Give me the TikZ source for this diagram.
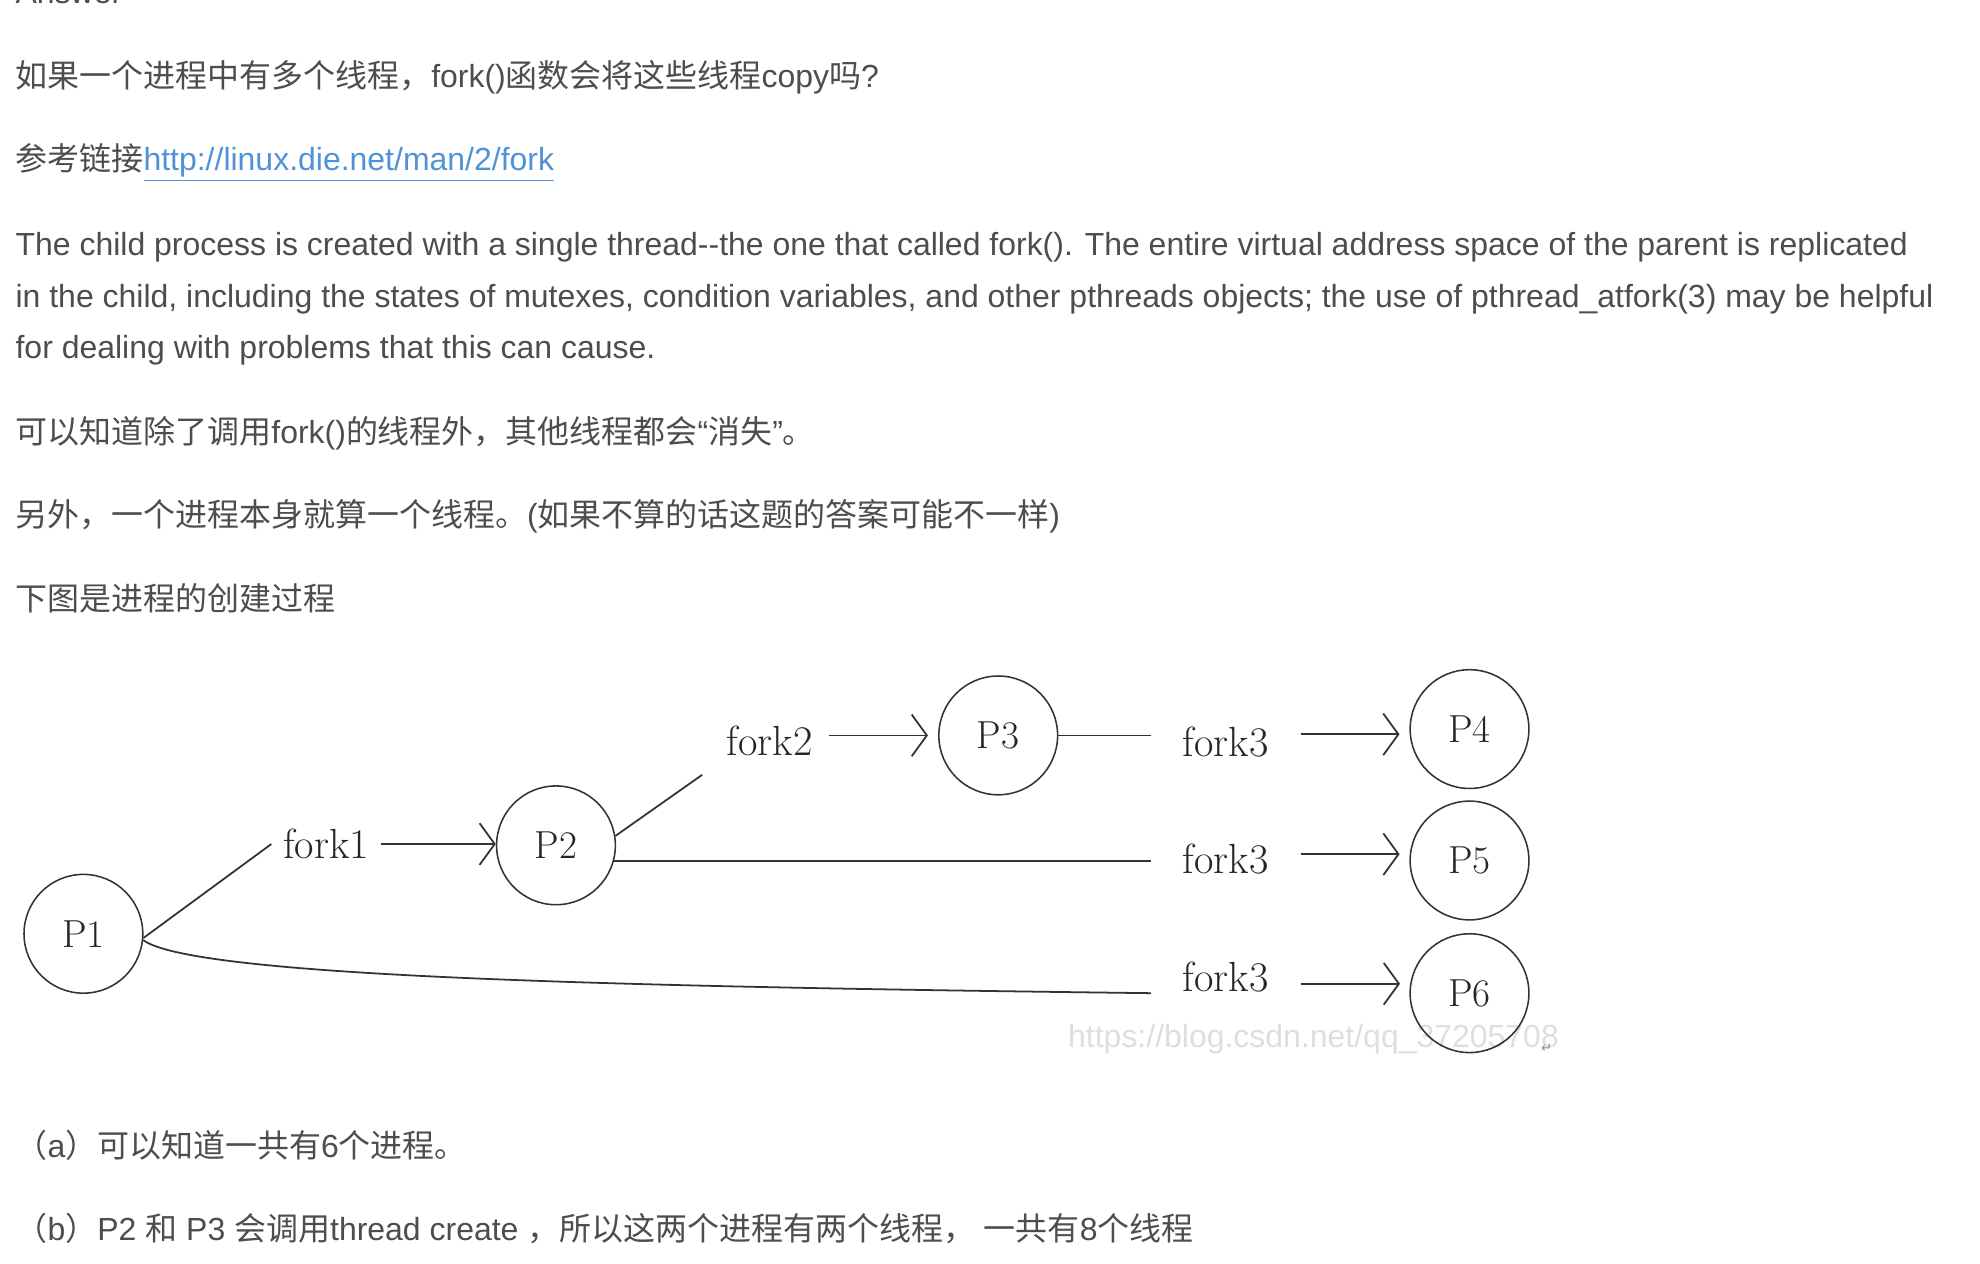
\documentclass[tikz,border=0pt]{standalone}
\usepackage{fontspec}
\setsansfont{Liberation Sans}
\newfontfamily\cjk{Noto Sans CJK SC}
\newfontfamily\symb{DejaVu Sans}
\usetikzlibrary{arrows.meta}
\definecolor{txtgray}{RGB}{77,77,77}
\definecolor{linkblue}{RGB}{79,146,214}
\definecolor{markgray}{RGB}{222,222,222}
\newcommand{\zh}[1]{{\cjk #1}}

\begin{document}
\begin{tikzpicture}[x=0.2mm,y=-0.2mm]
            \tikzset{
                txt/.style={anchor=base west, inner sep=0, text=txtgray, font=\sffamily\fontsize{14.4pt}{17pt}\selectfont},
                proc/.style={circle, draw=black!80, line width=0.7pt, minimum size=18.8mm, inner sep=0, text=black!85, font=\fontsize{17.6pt}{20pt}\selectfont},
                forklbl/.style={inner ysep=0, inner xsep=1.8mm, text=black!85, font=\fontsize{19pt}{22pt}\selectfont},
                edge/.style={draw=black!80, line width=0.8pt},
                arr/.style={edge, -{Straight Barb[length=2.4mm, width=6.6mm]}}
            }
            \useasboundingbox (0,0) rectangle (1567,1000);
            \clip (0,0) rectangle (1567,1000);

            % text
            \node[txt] (ans) at (12,3) {Answer};
            \node[txt] (q1) at (12,69) {\zh{如果一个进程中有多个线程，}fork()\zh{函数会将这些线程}copy\zh{吗}?};
            \node[txt] (ref) at (12,135) {\zh{参考链接}\textcolor{linkblue}{\underline{http://linux.die.net/man/2/fork}}};
            \node[txt] (man1) at (12,202) {The child process is created with a single thread-{}-the one that called fork(). The entire virtual address space of the parent is replicated};
            \node[txt] (man2) at (12,243) {in the child, including the states of mutexes, condition variables, and other pthreads objects; the use of pthread\_atfork(3) may be helpful};
            \node[txt] (man3) at (12,284) {for dealing with problems that this can cause.};
            \node[txt] (q2) at (12,351) {\zh{可以知道除了调用}fork()\zh{的线程外，其他线程都会}“\zh{消失}”\zh{。}};
            \node[txt] (q3) at (12,417) {\zh{另外，一个进程本身就算一个线程。}(\zh{如果不算的话这题的答案可能不一样})};
            \node[txt] (q4) at (12,483) {\zh{下图是进程的创建过程}};
            \node[txt] (ansa) at (12,916) {\zh{（}a\zh{）可以知道一共有}6\zh{个进程。}};
            \node[txt] (ansb) at (12,982) {\zh{（}b\zh{）}P2 \zh{和} P3 \zh{会调用}thread create \zh{，所以这两个进程有两个线程，} \zh{一共有}8\zh{个线程}};
            \node[txt, text=markgray] (wm) at (845,829) {https://blog.csdn.net/qq\_37205708};
            \node[inner sep=0, text=black!45, font=\symb\fontsize{6pt}{7pt}\selectfont] (ret) at (1224,830) {↵};

            % vertices
            \node[proc] (P1) at (66,739) {P1};
            \node[proc] (P2) at (440,669) {P2};
            \node[proc] (P3) at (790,582) {P3};
            \node[proc] (P4) at (1163,577) {P4};
            \node[proc] (P5) at (1163,681) {P5};
            \node[proc] (P6) at (1163,786) {P6};
            \node[forklbl] (f1) at (258,668) {fork1};
            \node[forklbl, inner xsep=2.6mm] (f2) at (609,586) {fork2};
            \node[forklbl, inner xsep=5mm] (f3a) at (970,587) {fork3};
            \node[forklbl, inner xsep=5mm] (f3b) at (970,680) {fork3};
            \node[forklbl, inner xsep=5mm] (f3c) at (970,773) {fork3};

            %edges
            \draw[edge] (P1.-4) -- (f1.west);
            \draw[arr] (f1.east) -- (f1.east -| P2.west);
            \draw[edge] (P2.9) -- ([shift={(-6,15)}]f2.south west);
            \draw[arr, shorten >=1.6mm] (f2.east |- P3) -- (P3.west);
            \draw[edge] (P3.east) -- (f3a.west |- P3);
            \draw[arr, shorten >=1.6mm] (f3a.east |- P4.185) -- (P4.185);
            \draw[edge] (P2.-15) -- (f3b.west |- P2.-15);
            \draw[arr, shorten >=1.6mm] (f3b.east |- P5.174) -- (P5.174);
            \draw[edge] (P1.-6) .. controls +(40,30) and +(-400,-5) .. (f3c.west |- P6);
            \draw[arr, shorten >=1.6mm] (f3c.east |- P6.171) -- (P6.171);
\end{tikzpicture}
\end{document}
